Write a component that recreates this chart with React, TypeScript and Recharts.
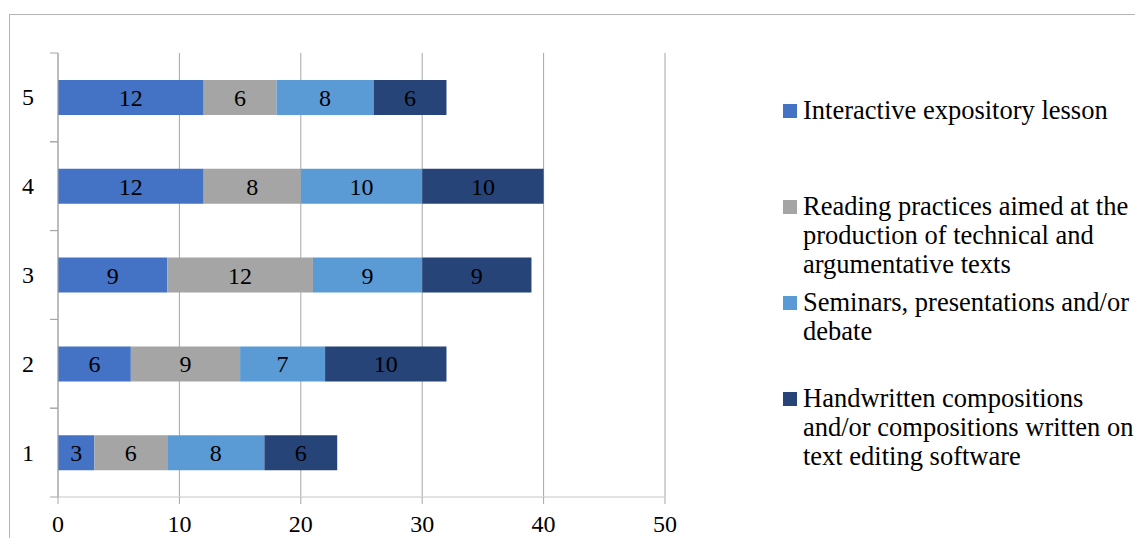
import React from 'react';
import {
  BarChart,
  Bar,
  XAxis,
  YAxis,
  CartesianGrid,
  Legend,
  LabelList,
} from 'recharts';

// Category labels on the vertical axis (1 at the bottom)
const categories = ['1', '2', '3', '4', '5'];

// Series values per category
const interactiveLesson = [3, 6, 9, 12, 12];
const readingPractices = [6, 9, 12, 8, 6];
const seminars = [8, 7, 9, 10, 8];
const handwritten = [6, 10, 9, 10, 6];

const seriesNames = [
  'Interactive expository lesson',
  'Reading practices aimed at the production of technical and argumentative texts',
  'Seminars, presentations and/or debate',
  'Handwritten compositions and/or compositions written on text editing software',
];

const xTicks = [0, 10, 20, 30, 40, 50];

const colors = ['#4472C4', '#A5A5A5', '#5B9BD5', '#264478'];
const keys = ['s1', 's2', 's3', 's4'];

const data = categories.map((name, i) => ({
  name,
  s1: interactiveLesson[i],
  s2: readingPractices[i],
  s3: seminars[i],
  s4: handwritten[i],
}));

const FONT = "'Liberation Serif', 'Times New Roman', serif";
const CHART_W = 1135;
const CHART_H = 560;
const MARGIN = { top: 53, right: 470, bottom: 23, left: 0 };
const X_AXIS_H = 40;
const Y_AXIS_W = 58;
const Y_TICK_SIZE = 8;
const Y_TICK_MARGIN = 16;
const PLOT_H = CHART_H - MARGIN.top - MARGIN.bottom - X_AXIS_H;
const BAND = PLOT_H / categories.length;

// Category tick: label centred on the band, tick marks on the band edges
const YTick = (props: any) => {
  const { x, y, payload } = props;
  const x1 = x + Y_TICK_MARGIN;
  const x2 = x1 + Y_TICK_SIZE;
  return (
    <g>
      <line x1={x1} x2={x2} y1={y - BAND / 2} y2={y - BAND / 2} stroke="#a6a6a6" />
      <line x1={x1} x2={x2} y1={y + BAND / 2} y2={y + BAND / 2} stroke="#a6a6a6" />
      <text
        x={x}
        y={y}
        textAnchor="end"
        dominantBaseline="central"
        style={{ fontFamily: FONT }}
        fontSize={24}
        fill="#000"
      >
        {payload.value}
      </text>
    </g>
  );
};

// Legend entries in series order, each in a fixed-height slot
const LegendContent = () => (
  <div style={{ fontFamily: FONT, fontSize: 26.5, lineHeight: '29px', color: '#000' }}>
    {seriesNames.map((name, i) => (
      <div key={name} style={{ height: 96, display: 'flex', alignItems: 'flex-start' }}>
        <span
          style={{
            display: 'inline-block',
            width: 14,
            height: 14,
            background: colors[i],
            marginTop: 8,
            marginRight: 6,
            flex: 'none',
          }}
        />
        <span style={{ width: 340 }}>{name}</span>
      </div>
    ))}
  </div>
);

export default function App() {
  return (
    <div
      style={{
        position: 'fixed',
        left: 0,
        top: 0,
        width: 1135,
        height: 538,
        overflow: 'hidden',
        background: '#fff',
        fontFamily: FONT,
      }}
    >
      <div
        style={{
          position: 'absolute',
          left: 9,
          top: 14,
          width: 1400,
          height: 800,
          border: '1.5px solid #b4b4b4',
        }}
      />
      <div style={{ position: 'absolute', left: 0, top: 0 }}>
        <BarChart
          width={CHART_W}
          height={CHART_H}
          data={data}
          layout="vertical"
          margin={MARGIN}
          barSize={35}
          style={{ fontFamily: FONT }}
        >
          <CartesianGrid horizontal={false} stroke="#a6a6a6" strokeWidth={1} />
          <XAxis
            type="number"
            domain={[0, 50]}
            ticks={xTicks}
            interval={0}
            height={X_AXIS_H}
            axisLine={{ stroke: '#d9d9d9', strokeWidth: 1.5 }}
            tickLine={{ stroke: '#a6a6a6' }}
            tickSize={7}
            tickMargin={11}
            tick={{ fontSize: 24, fill: '#000', style: { fontFamily: FONT } }}
          />
          <YAxis
            type="category"
            dataKey="name"
            reversed
            width={Y_AXIS_W}
            axisLine={{ stroke: '#a6a6a6' }}
            tickLine={false}
            tickSize={Y_TICK_SIZE}
            tickMargin={Y_TICK_MARGIN}
            tick={<YTick />}
            interval={0}
          />
          <Legend
            layout="vertical"
            align="center"
            verticalAlign="middle"
            content={<LegendContent />}
            wrapperStyle={{ left: 783, top: 96, width: 352, height: 400 }}
          />
          {keys.map((k, i) => (
            <Bar
              key={k}
              dataKey={k}
              name={seriesNames[i]}
              stackId="total"
              fill={colors[i]}
              isAnimationActive={false}
            >
              <LabelList
                dataKey={k}
                position="center"
                fill="#000"
                fontSize={24}
                style={{ fontFamily: FONT }}
              />
            </Bar>
          ))}
        </BarChart>
      </div>
    </div>
  );
}
